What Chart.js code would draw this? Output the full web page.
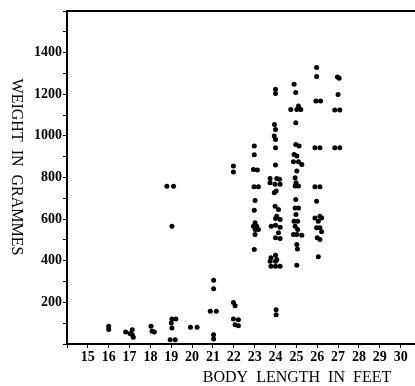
<!DOCTYPE html>
<html lang="en">
<head>
    <meta charset="UTF-8" />
    <title>Weight vs body length</title>
    <script src="https://cdn.jsdelivr.net/npm/chart.js"></script>
    <style>
        html, body {
            margin: 0;
            padding: 0;
            background: #fff;
            overflow: hidden;
        }

        .wrap {
            width: 415px;
            height: 386px;
            overflow: hidden;
        }
    </style>
</head>
<body>
    <div class="wrap">
        <canvas id="scatter" width="424" height="386"></canvas>
    </div>

    <script>
        // body length (feet) of each specimen
        const lengths = [
            16.0, 16.0,
            16.81, 17.13, 17.13, 17.18, 17.02,
            18.03, 18.08, 18.19,
            19.03, 19.22, 19.0, 19.03, 18.95, 19.19, 18.79, 19.11, 19.03,
            19.92, 20.24,
            21.03, 21.03, 20.87, 21.16, 21.03, 21.03,
            21.98, 21.98, 21.98, 22.06, 21.98, 22.22, 22.06, 22.22,
            22.98, 22.98, 22.94, 23.13, 22.97, 23.18, 23.02, 22.98, 23.02, 22.94, 23.1, 23.02, 23.18, 23.02, 22.98,
            24.0, 24.0, 23.95, 24.0, 23.94, 24.0, 24.0, 24.0, 23.74, 24.06, 24.19, 23.74, 23.98, 24.22, 24.03, 23.94,
            23.98, 24.14, 24.06, 24.0, 24.22, 23.79, 24.0, 24.22, 24.14, 24.0, 24.22, 24.0, 23.78, 24.06, 23.74, 24.0,
            23.78, 24.0, 24.22, 24.03, 24.03,
            24.89, 24.97, 25.1, 24.73, 25.02, 25.21, 24.97, 24.97, 25.13, 24.89, 25.02, 24.86, 25.1, 25.26, 25.02, 24.94,
            24.98, 24.94, 25.1, 24.97, 24.94, 25.1, 24.98, 24.89, 25.06, 24.94, 25.06, 25.02, 24.86, 25.26, 25.02, 25.05,
            25.02,
            25.97, 25.97, 25.94, 26.16, 25.89, 26.13, 25.89, 26.13, 25.97, 26.13, 25.89, 26.21, 26.05, 25.97, 26.13, 26.21,
            26.0, 26.13, 26.05,
            26.97, 27.05, 27.0, 26.84, 27.08, 26.84, 27.08
        ];

        // weight (grammes), same order as lengths
        const weights = [
            85, 70,
            58, 69, 45, 32, 50,
            85, 61, 58,
            120, 120, 101, 77, 21, 21, 758, 758, 566,
            80, 80,
            306, 265, 157, 157, 45, 24,
            855, 826, 200, 184, 120, 117, 93, 88,
            951, 909, 839, 836, 755, 755, 690, 643, 582, 566, 566, 550, 550, 526, 454,
            1224, 1204, 1055, 1031, 999, 983, 943, 860, 795, 795, 791, 775, 767, 767, 735, 727,
            662, 646, 614, 603, 598, 566, 571, 561, 534, 510, 507, 427, 414, 406, 398, 398,
            374, 374, 374, 165, 141,
            1248, 1208, 1143, 1127, 1127, 1127, 1063, 959, 951, 911, 903, 876, 876, 863, 831, 799,
            775, 759, 759, 694, 654, 654, 622, 590, 590, 566, 550, 526, 526, 523, 478, 457,
            378,
            1328, 1285, 1167, 1167, 943, 943, 755, 755, 686, 614, 606, 606, 590, 558, 558, 539,
            510, 502, 419,
            1283, 1277, 1199, 1124, 1124, 943, 943
        ];

        const xLabels = [15, 16, 17, 18, 19, 20, 21, 22, 23, 24, 25, 26, 27, 28, 29, 30];
        const yLabels = [200, 400, 600, 800, 1000, 1200, 1400];

        const xTitle = 'BODY  LENGTH  IN  FEET';
        const yTitle = 'WEIGHT  IN  GRAMMES';

        const ink = '#000';
        const serif = '"Liberation Serif", "DejaVu Serif", serif';

        const points = lengths.map((x, i) => ({ x: x, y: weights[i] }));

        // top frame line and the two axis titles
        const framePlugin = {
            id: 'frame',
            afterDraw(chart) {
                const { ctx, chartArea } = chart;
                ctx.save();
                ctx.strokeStyle = ink;
                ctx.lineWidth = 2;
                ctx.beginPath();
                ctx.moveTo(chartArea.left - 1, chartArea.top);
                ctx.lineTo(chartArea.right + 5, chartArea.top);
                ctx.stroke();

                ctx.fillStyle = ink;
                ctx.font = '16px ' + serif;
                ctx.textAlign = 'center';
                ctx.textBaseline = 'middle';
                ctx.fillText(xTitle, 297, 378);

                ctx.translate(16, 167);
                ctx.rotate(Math.PI / 2);
                ctx.fillText(yTitle, 0, 0);
                ctx.restore();
            }
        };

        new Chart(document.getElementById('scatter'), {
            type: 'scatter',
            data: {
                datasets: [{
                    data: points,
                    backgroundColor: ink,
                    borderWidth: 0,
                    pointRadius: 2.5,
                    pointHoverRadius: 2.5
                }]
            },
            options: {
                responsive: false,
                animation: false,
                layout: { padding: { left: 22, top: 11, right: 1, bottom: 0 } },
                plugins: {
                    legend: { display: false },
                    tooltip: { enabled: false }
                },
                scales: {
                    x: {
                        type: 'linear',
                        min: 14,
                        max: 31,
                        afterFit(scale) { scale.height = 42; },
                        border: { color: ink, width: 2 },
                        grid: { drawOnChartArea: false, drawTicks: true, tickLength: 4, color: ink },
                        ticks: {
                            stepSize: 1,
                            padding: 1,
                            color: ink,
                            font: { family: serif, size: 14, weight: 'bold' },
                            maxRotation: 0,
                            autoSkip: false,
                            callback: v => xLabels.includes(v) ? String(v) : ''
                        }
                    },
                    y: {
                        min: 0,
                        max: 1600,
                        afterFit(scale) { scale.width = 45; },
                        border: { color: ink, width: 2 },
                        grid: { drawOnChartArea: false, drawTicks: true, tickLength: 4, color: ink },
                        ticks: {
                            stepSize: 100,
                            padding: 1,
                            color: ink,
                            font: { family: serif, size: 14, weight: 'bold' },
                            autoSkip: false,
                            callback: v => yLabels.includes(v) ? String(v) : ''
                        }
                    }
                }
            },
            plugins: [framePlugin]
        });
    </script>
</body>
</html>
